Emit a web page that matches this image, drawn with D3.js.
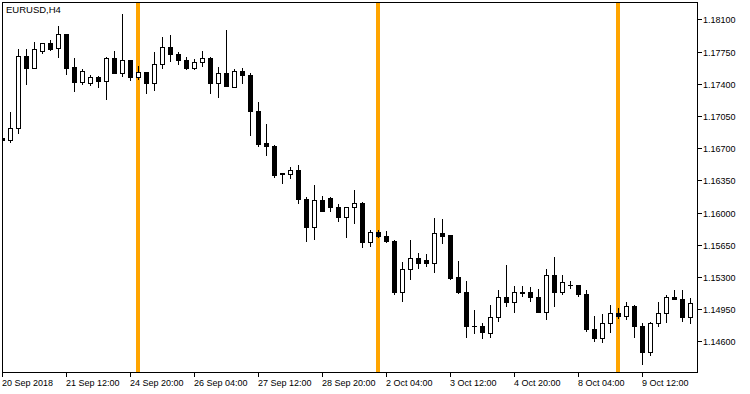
<!DOCTYPE html>
<html>
<head>
<meta charset="utf-8">
<script src="https://cdn.jsdelivr.net/npm/d3@7"></script>
<style>
  body { margin: 0; background: #fff; }
  svg text { font-family: "Liberation Sans", Arial, sans-serif; font-size: 9px; fill: #000; }
</style>
</head>
<body>
<div id="chart"></div>
<script>
// EURUSD H4 bars, 20 Sep 2018 04:00 .. 9 Oct 2018
const opens = [1.16805, 1.16788, 1.16915, 1.17701, 1.17574, 1.17759, 1.17839, 1.17785, 1.17940, 1.17578,
  1.17422, 1.17404, 1.17470, 1.17433, 1.17676, 1.17513, 1.17654, 1.17476, 1.17527, 1.17404,
  1.17611, 1.17796, 1.17720, 1.17658, 1.17574, 1.17636, 1.17676, 1.17404, 1.17520, 1.17361,
  1.17538, 1.17491, 1.17106, 1.16752, 1.16726, 1.16426, 1.16418, 1.16462, 1.16143, 1.15846,
  1.16136, 1.16161, 1.16063, 1.15948, 1.16063, 1.16106, 1.15683, 1.15791, 1.15748, 1.15693,
  1.15139, 1.15383, 1.15502, 1.15484, 1.15448, 1.15780, 1.15756, 1.15296, 1.15139, 1.14769,
  1.14769, 1.14693, 1.14861, 1.15078, 1.15030, 1.15139, 1.15132, 1.15085, 1.14915, 1.15321,
  1.15132, 1.15212, 1.15212, 1.15111, 1.14734, 1.14632, 1.14796, 1.14904, 1.14878, 1.14984,
  1.14769, 1.14487, 1.14802, 1.14904, 1.15085, 1.15056, 1.14861];
const highs = [1.16815, 1.17092, 1.17774, 1.17774, 1.17850, 1.17846, 1.17875, 1.18027, 1.17945, 1.17676,
  1.17560, 1.17495, 1.17484, 1.17687, 1.17755, 1.18158, 1.17654, 1.17592, 1.17527, 1.17748,
  1.17911, 1.17929, 1.17748, 1.17687, 1.17665, 1.17755, 1.17693, 1.17585, 1.17984, 1.17560,
  1.17567, 1.17520, 1.17204, 1.16962, 1.16734, 1.16433, 1.16498, 1.16516, 1.16172, 1.16299,
  1.16179, 1.16172, 1.16089, 1.16063, 1.16245, 1.16117, 1.15810, 1.15810, 1.15802, 1.15701,
  1.15465, 1.15701, 1.15556, 1.15549, 1.15937, 1.15926, 1.15756, 1.15473, 1.15255, 1.14940,
  1.14796, 1.14994, 1.15157, 1.15429, 1.15201, 1.15201, 1.15187, 1.15165, 1.15383, 1.15513,
  1.15321, 1.15259, 1.15212, 1.15157, 1.14875, 1.14897, 1.14994, 1.14959, 1.15030, 1.14994,
  1.14796, 1.14813, 1.15030, 1.15103, 1.15157, 1.15157, 1.15067];
const lows = [1.16775, 1.16770, 1.16861, 1.17393, 1.17574, 1.17737, 1.17766, 1.17687, 1.17505, 1.17324,
  1.17393, 1.17386, 1.17367, 1.17237, 1.17513, 1.17484, 1.17440, 1.17454, 1.17302, 1.17331,
  1.17574, 1.17650, 1.17611, 1.17560, 1.17557, 1.17592, 1.17302, 1.17259, 1.17378, 1.17361,
  1.17404, 1.16842, 1.16726, 1.16625, 1.16389, 1.16324, 1.16372, 1.16106, 1.15693, 1.15712,
  1.16020, 1.16020, 1.15911, 1.15737, 1.15883, 1.15628, 1.15636, 1.15730, 1.15683, 1.15111,
  1.15041, 1.15277, 1.15393, 1.15422, 1.15356, 1.15665, 1.15274, 1.15122, 1.14643, 1.14693,
  1.14632, 1.14650, 1.14824, 1.14987, 1.14922, 1.15096, 1.15041, 1.14915, 1.14839, 1.14984,
  1.15111, 1.15176, 1.15096, 1.14715, 1.14606, 1.14596, 1.14704, 1.14850, 1.14839, 1.14643,
  1.14353, 1.14451, 1.14769, 1.14813, 1.15056, 1.14824, 1.14796];
const closes = [1.16785, 1.16915, 1.17701, 1.17574, 1.17774, 1.17839, 1.17780, 1.17940, 1.17574, 1.17422,
  1.17541, 1.17470, 1.17433, 1.17676, 1.17513, 1.17654, 1.17476, 1.17527, 1.17411, 1.17611,
  1.17796, 1.17720, 1.17658, 1.17574, 1.17636, 1.17676, 1.17404, 1.17520, 1.17378, 1.17538,
  1.17491, 1.17106, 1.16745, 1.16726, 1.16408, 1.16415, 1.16462, 1.16143, 1.15846, 1.16136,
  1.16020, 1.16063, 1.15948, 1.16063, 1.16100, 1.15683, 1.15785, 1.15748, 1.15693, 1.15139,
  1.15383, 1.15502, 1.15454, 1.15448, 1.15774, 1.15748, 1.15285, 1.15139, 1.14769, 1.14763,
  1.14698, 1.14861, 1.15078, 1.15030, 1.15132, 1.15128, 1.15085, 1.14915, 1.15321, 1.15132,
  1.15241, 1.15209, 1.15111, 1.14734, 1.14632, 1.14796, 1.14904, 1.14878, 1.14984, 1.14769,
  1.14487, 1.14802, 1.14904, 1.15085, 1.15056, 1.14861, 1.15019];

// time axis labels every 8 bars
const xTickIdx = [0, 8, 16, 24, 32, 40, 48, 56, 64, 72, 80];
const xTickLabels = ["20 Sep 2018", "21 Sep 12:00", "24 Sep 20:00", "26 Sep 04:00", "27 Sep 12:00",
  "28 Sep 20:00", "2 Oct 04:00", "3 Oct 12:00", "4 Oct 20:00", "8 Oct 04:00", "9 Oct 12:00"];
const yTicks = [1.14600, 1.14950, 1.15300, 1.15650, 1.16000, 1.16350, 1.16700, 1.17050, 1.17400, 1.17750, 1.18100];
// orange separator lines (bar indices)
const separators = [17, 47, 77];

const bars = opens.map((o, i) => ({ i, o, h: highs[i], l: lows[i], c: closes[i] }));

const width = 750, height = 394;
const plot = { left: 2, top: 2, right: 697, bottom: 372 };

const svg = d3.select("#chart").append("svg")
  .attr("width", width)
  .attr("height", height);

svg.append("rect").attr("width", width).attr("height", height).attr("fill", "#fff");

const x = d3.scaleLinear().domain([0, 86]).range([2.5, 690.5]);
const y = d3.scaleLinear().domain([1.146, 1.181]).range([341.3, 19.3]);

svg.append("clipPath").attr("id", "clip")
  .append("rect")
  .attr("x", plot.left + 1).attr("y", plot.top + 1)
  .attr("width", plot.right - plot.left - 1).attr("height", plot.bottom - plot.top - 1);

const g = svg.append("g").attr("clip-path", "url(#clip)");

// separators
g.selectAll("rect.sep")
  .data(separators)
  .enter()
  .append("rect")
  .attr("class", "sep")
  .attr("x", d => x(d) - 2.5)
  .attr("y", plot.top)
  .attr("width", 4)
  .attr("height", plot.bottom - plot.top)
  .attr("fill", "#FFA500");

// wicks
g.selectAll("line.wick")
  .data(bars)
  .enter()
  .append("line")
  .attr("class", "wick")
  .attr("x1", d => x(d.i)).attr("x2", d => x(d.i))
  .attr("y1", d => Math.round(y(d.h)))
  .attr("y2", d => Math.round(y(d.l)) + 1)
  .attr("stroke", "#000")
  .attr("stroke-width", 1)
  .attr("shape-rendering", "crispEdges");

// bodies
bars.forEach(d => {
  const top = Math.round(y(Math.max(d.o, d.c)));
  const bot = Math.round(y(Math.min(d.o, d.c)));
  const left = x(d.i) - 2.5;
  if (bot - top < 2) {
    g.append("rect")
      .attr("x", left).attr("y", top)
      .attr("width", 5).attr("height", Math.max(1, bot - top + 1))
      .attr("fill", "#000");
  } else if (d.c < d.o) {
    g.append("rect")
      .attr("x", left).attr("y", top)
      .attr("width", 5).attr("height", bot - top + 1)
      .attr("fill", "#000");
  } else {
    g.append("rect")
      .attr("x", left + 0.5).attr("y", top + 0.5)
      .attr("width", 4).attr("height", bot - top)
      .attr("fill", "#fff")
      .attr("stroke", "#000")
      .attr("stroke-width", 1);
  }
});

// frame
svg.append("rect")
  .attr("x", plot.left + 0.5).attr("y", plot.top + 0.5)
  .attr("width", plot.right - plot.left).attr("height", plot.bottom - plot.top)
  .attr("fill", "none")
  .attr("stroke", "#000")
  .attr("stroke-width", 1);

// price axis
const yAxis = svg.append("g");
yTicks.forEach(v => {
  const yy = Math.round(y(v)) + 0.5;
  yAxis.append("line")
    .attr("x1", plot.right + 0.5).attr("x2", plot.right + 5)
    .attr("y1", yy).attr("y2", yy)
    .attr("stroke", "#000");
  yAxis.append("text")
    .attr("x", plot.right + 6)
    .attr("y", yy + 3.5)
    .text(d3.format(".5f")(v));
});

// time axis
const xAxis = svg.append("g");
xTickIdx.forEach((idx, j) => {
  const xx = Math.floor(x(idx)) + 0.5;
  xAxis.append("line")
    .attr("x1", xx).attr("x2", xx)
    .attr("y1", plot.bottom + 0.5).attr("y2", plot.bottom + 5)
    .attr("stroke", "#000");
  xAxis.append("text")
    .attr("x", xx - 0.5)
    .attr("y", 386)
    .text(xTickLabels[j]);
});

// symbol label
svg.append("text")
  .attr("x", 6)
  .attr("y", 13)
  .style("font-size", "9.5px")
  .text("EURUSD,H4");
</script>
</body>
</html>
